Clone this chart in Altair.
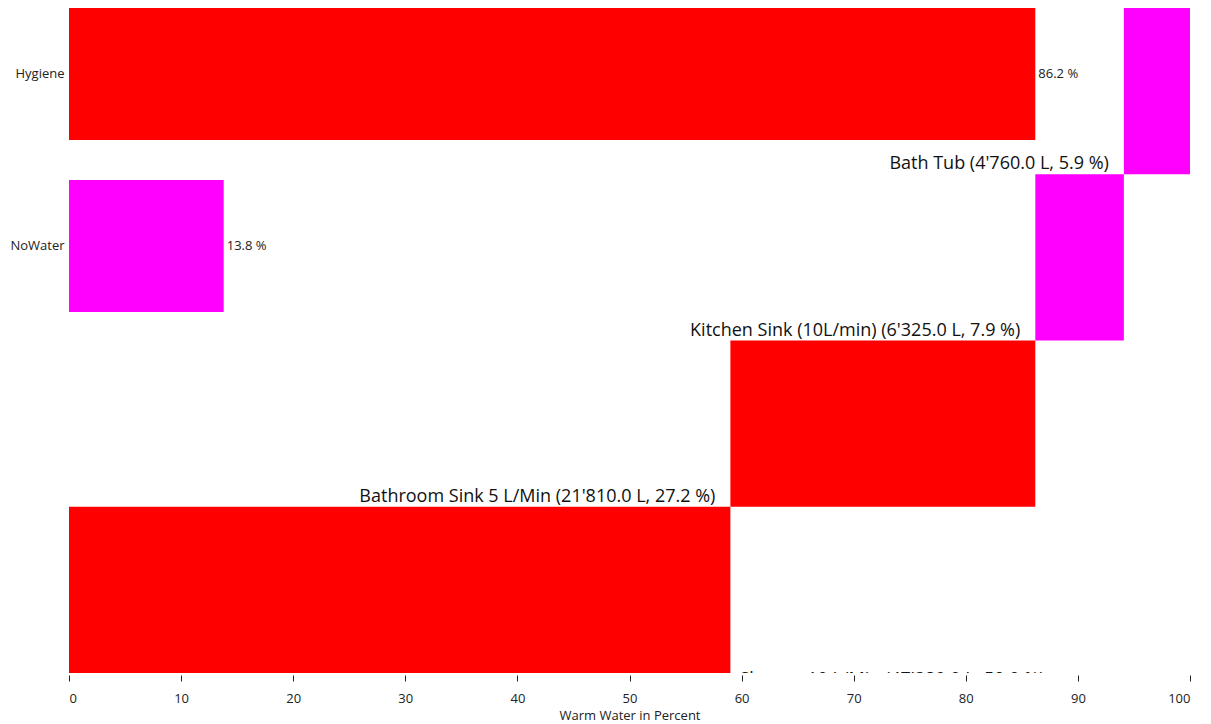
import altair as alt
import pandas as pd

# --- data ---
main_categories = ["Hygiene", "NoWater"]
main_percent = [86.2, 13.8]

group_names = ["Hygiene", "NoWater"]
group_colors = ["#ff0000", "#ff00ff"]

# breakdown, listed from top row to bottom row
use_names = ["Bath Tub", "Kitchen Sink (10L/min)", "Bathroom Sink 5 L/Min", "Shower 10 L/Min"]
use_liters = [4760.0, 6325.0, 21810.0, 47380.0]
use_percent = [5.9, 7.9, 27.2, 59.0]
use_group = ["NoWater", "NoWater", "Hygiene", "Hygiene"]

FONT = "Open Sans"

main_df = pd.DataFrame({
    "cat": main_categories,
    "pct": main_percent,
    "zero": [0.0] * len(main_categories),
    "label": [f"{p:.1f} %" for p in main_percent],
})

# cumulative starts, bottom row starts at 0
starts = []
acc = 0.0
for p in reversed(use_percent):
    starts.append(round(acc, 1))
    acc += p
starts = list(reversed(starts))

def fmt_l(v):
    return f"{v:,.1f}".replace(",", "'")

use_df = pd.DataFrame({
    "name": use_names,
    "start": starts,
    "end": [round(s + p, 1) for s, p in zip(starts, use_percent)],
    "group": use_group,
    "label": [f"{n} ({fmt_l(l)} L, {p:.1f} %)" for n, l, p in zip(use_names, use_liters, use_percent)],
    "last": [False] * (len(use_names) - 1) + [True],
})

color = alt.Color("cat:N", scale=alt.Scale(domain=group_names, range=group_colors), legend=None)
color_use = alt.Color("group:N", scale=alt.Scale(domain=group_names, range=group_colors), legend=None)

x_scale = alt.Scale(domain=[0, 100], nice=False, zero=True)
x_axis = alt.Axis(
    title="Warm Water in Percent", values=list(range(0, 101, 10)), grid=False, domain=False,
    tickSize=6, tickColor="#222", offset=2, labelFontSize=13, labelFont=FONT, labelColor="#222",
    labelPadding=11, titleFont=FONT, titleFontSize=13, titleFontWeight="normal", titleColor="#222",
    titlePadding=4,
)

y_main_scale = alt.Scale(domain=main_categories, range=[0, 304], paddingInner=0.2326, paddingOuter=0)
y_main_axis = alt.Axis(title=None, ticks=False, domain=False, labelFontSize=13, labelFont=FONT,
                       labelColor="#222", labelPadding=5)

main_bars = alt.Chart(main_df).mark_bar().encode(
    x=alt.X("zero:Q", scale=x_scale, axis=x_axis),
    x2="pct:Q",
    y=alt.Y("cat:N", scale=y_main_scale, axis=y_main_axis, sort=main_categories),
    color=color,
)
main_text = alt.Chart(main_df).mark_text(align="left", baseline="middle", dx=3, fontSize=13,
                                         font=FONT, color="#222").encode(
    x=alt.X("pct:Q", scale=x_scale),
    y=alt.Y("cat:N", scale=y_main_scale, sort=main_categories),
    text="label:N",
)
main_layer = alt.layer(main_bars, main_text)

y_use_scale = alt.Scale(domain=use_names, paddingInner=0, paddingOuter=0)

use_bars = alt.Chart(use_df).mark_bar().encode(
    x=alt.X("start:Q", scale=x_scale),
    x2="end:Q",
    y=alt.Y("name:N", scale=y_use_scale, axis=None, sort=use_names),
    color=color_use,
)
use_text = alt.Chart(use_df).transform_filter("!datum.last").mark_text(
    align="right", baseline="alphabetic", dx=-15, dy=-5, fontSize=18, font=FONT, color="#111"
).encode(
    x=alt.X("start:Q", scale=x_scale),
    y=alt.Y("name:N", scale=y_use_scale, axis=None, sort=use_names, bandPosition=1),
    text="label:N",
)
last_text = alt.Chart(use_df).transform_filter("datum.last").mark_text(
    align="left", baseline="alphabetic", dx=9, dy=12, fontSize=18, font=FONT, color="#111", clip=True
).encode(
    x=alt.X("end:Q", scale=x_scale),
    y=alt.Y("name:N", scale=y_use_scale, axis=None, sort=use_names, bandPosition=1),
    text="label:N",
)
use_layer = alt.layer(use_bars, use_text, last_text)

chart = alt.layer(main_layer, use_layer).resolve_scale(y="independent", color="independent").properties(
    width=1121, height=665,
    autosize=alt.AutoSizeParams(type="none"),
    padding={"left": 61, "top": 0, "right": 10, "bottom": 51},
    background="white",
).configure_view(stroke=None)

chart.save("out.html", embed_options={"renderer": "svg", "actions": False})
